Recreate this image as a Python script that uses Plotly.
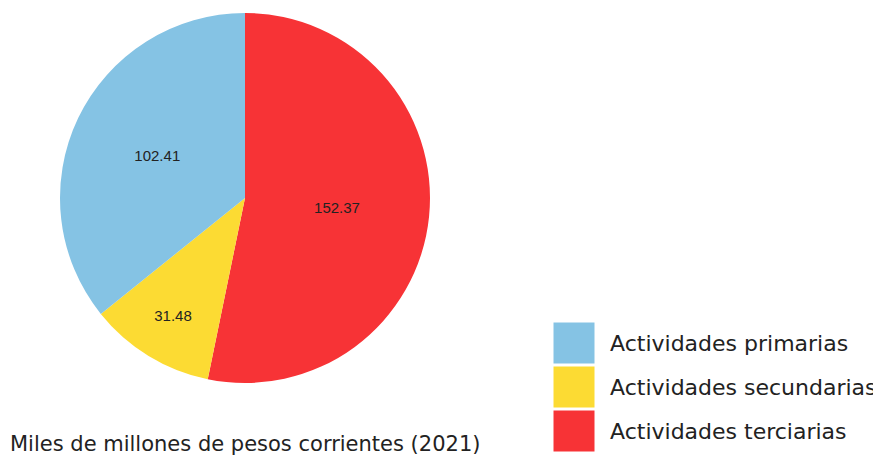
import plotly.graph_objects as go

labels = ["Actividades primarias", "Actividades secundarias", "Actividades terciarias"]
values = [102.41, 31.48, 152.37]
colors = ["#85C3E4", "#FCDB33", "#F73336"]
note = "Miles de millones de pesos corrientes (2021)"

# page body has 8px margin; figure placed at (8, 8)
OFF = 8
W, H = 881 - OFF, 458 - OFF


def px(x):
    return (x - OFF) / W


def py(y):
    return 1 - (y - OFF) / H


# slices drawn clockwise from 12 o'clock: terciarias, secundarias, primarias
fig = go.Figure()
fig.add_trace(go.Pie(
    labels=labels[::-1],
    values=values[::-1],
    sort=False,
    direction="clockwise",
    rotation=0,
    marker=dict(colors=colors[::-1], line=dict(width=0)),
    texttemplate="%{value:.2f}",
    textposition="inside",
    insidetextorientation="horizontal",
    textfont=dict(family="Liberation Sans, Arial, sans-serif", size=15, color="#222222"),
    domain=dict(x=[px(60), px(430)], y=[py(383), py(13)]),
    showlegend=False,
    hoverinfo="label+value",
))

# manual legend with large swatches
sq_x0, sq_x1 = 553, 595
top0, step = 322, 44
shapes = []
annotations = []
for i, (lab, col) in enumerate(zip(labels, colors)):
    y0 = top0 + i * step
    y1 = y0 + 42
    shapes.append(dict(type="rect", xref="paper", yref="paper",
                       x0=px(sq_x0), x1=px(sq_x1),
                       y0=py(y1), y1=py(y0),
                       fillcolor=col, line=dict(color="white", width=1)))
    annotations.append(dict(xref="paper", yref="paper",
                            x=px(608), y=py(y0 + 21),
                            xanchor="left", yanchor="middle",
                            text=lab, showarrow=False,
                            font=dict(family="DejaVu Sans, Verdana, sans-serif", size=22, color="#222222")))

annotations.append(dict(xref="paper", yref="paper",
                        x=px(8), y=py(444),
                        xanchor="left", yanchor="middle",
                        text=note, showarrow=False,
                        font=dict(family="DejaVu Sans, Verdana, sans-serif", size=21, color="#222222")))

fig.update_layout(
    width=W, height=H,
    margin=dict(l=0, r=0, t=0, b=0),
    paper_bgcolor="white",
    plot_bgcolor="white",
    shapes=shapes,
    annotations=annotations,
)

fig.write_html("out.html")
